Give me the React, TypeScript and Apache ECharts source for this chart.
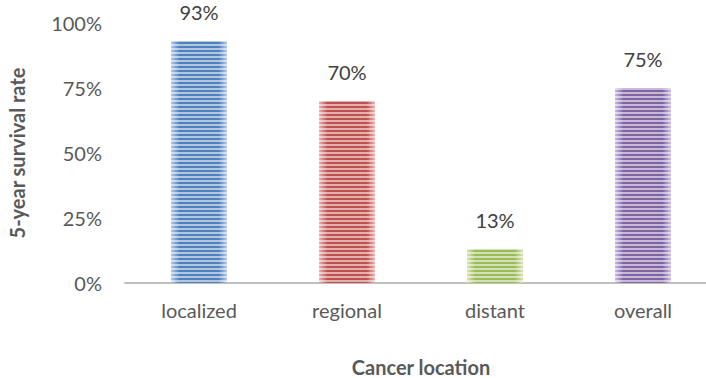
import React, { useEffect, useRef } from "react";
import * as echarts from "echarts";

const categories = ["localized", "regional", "distant", "overall"];
const survival = [93, 70, 13, 75];
const yTicks = [0, 25, 50, 75, 100];
const darkColors = ["#4f81bd", "#c0504d", "#9bbb59", "#8064a2"];
const edgeColors = ["#b3c9e6", "#e8b3b1", "#d6e5b3", "#cbbde0"];

export default function App() {
  const ref = useRef<HTMLDivElement>(null);
  useEffect(() => {
    if (!ref.current) return;
    const chart = echarts.init(ref.current, undefined, { renderer: "svg" });
    const font = "Lato, 'Open Sans', sans-serif";
    chart.setOption({
      animation: false,
      grid: { left: 125, right: 3, top: 23, bottom: 95, outerBoundsMode: "none", containLabel: false },
      xAxis: {
        type: "category",
        data: categories,
        axisLine: { lineStyle: { color: "#bfbfbf", width: 2 } },
        axisTick: { show: false },
        axisLabel: { color: "#595959", fontSize: 20, fontFamily: font, margin: 17 },
        name: "Cancer location",
        nameLocation: "middle",
        nameGap: 74,
        nameTextStyle: { color: "#595959", fontSize: 20, fontWeight: "bold", fontFamily: font },
      },
      yAxis: {
        type: "value",
        min: yTicks[0],
        max: yTicks[yTicks.length - 1],
        interval: 25,
        splitLine: { show: false },
        axisLine: { show: false },
        axisTick: { show: false },
        axisLabel: { color: "#595959", fontSize: 20, fontFamily: font, margin: 23, formatter: "{value}%" },
        name: "5-year survival rate",
        nameLocation: "middle",
        nameGap: 98,
        nameTextStyle: { color: "#595959", fontSize: 20, fontWeight: "bold", fontFamily: font },
      },
      series: [
        {
          type: "bar",
          barWidth: 56,
          data: survival.map((v, i) => ({
            value: v,
            itemStyle: {
              color: new echarts.graphic.LinearGradient(0, 0, 1, 0, [
                { offset: 0, color: edgeColors[i] },
                { offset: 0.15, color: darkColors[i] },
                { offset: 0.85, color: darkColors[i] },
                { offset: 1, color: edgeColors[i] },
              ]),
              decal: {
                symbol: "rect",
                symbolSize: 1,
                dashArrayX: [1, 0],
                dashArrayY: [2, 2],
                color: "rgba(255,255,255,0.55)",
                rotation: 0,
              },
            },
          })),
          label: {
            show: true,
            position: "top",
            distance: 19,
            formatter: "{c}%",
            color: "#404040",
            fontSize: 20,
            fontFamily: font,
          },
        },
      ],
    });
    return () => chart.dispose();
  }, []);
  return (
    <div style={{ position: "fixed", left: 0, top: 0, width: 706, height: 378, overflow: "hidden", background: "#fff" }}>
      <div ref={ref} style={{ width: 720, height: 378 }} />
    </div>
  );
}
